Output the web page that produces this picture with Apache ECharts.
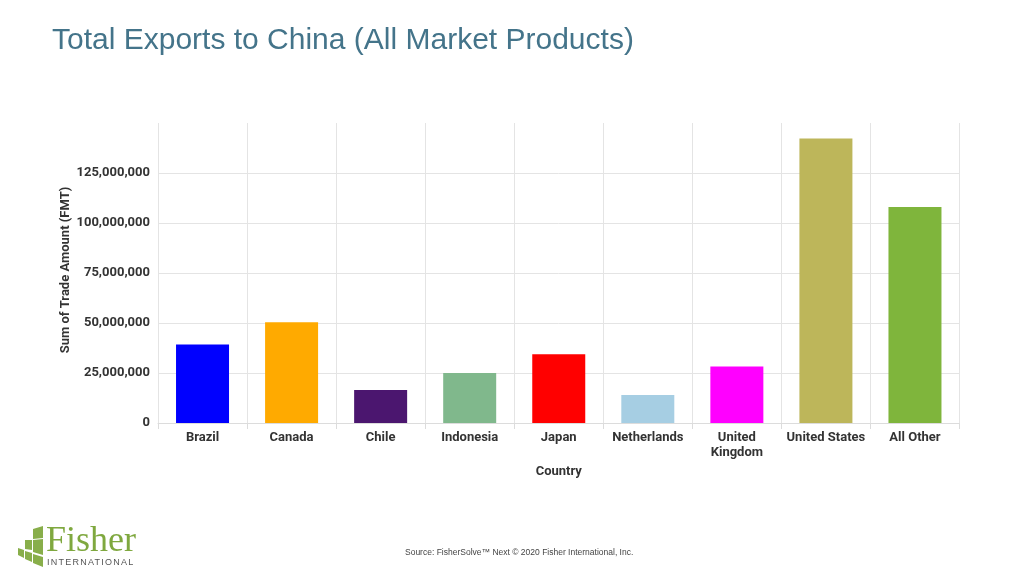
<!DOCTYPE html>
<html>
<head>
<meta charset="utf-8">
<style>
  html, body { margin: 0; padding: 0; background: #fff; }
  #chart { width: 1024px; height: 576px; }
  #logoSub { position: absolute; left: 47px; top: 557px; font: 9px/10px "Liberation Sans"; letter-spacing: 1.25px; color: #555; }
</style>
<script src="https://cdn.jsdelivr.net/npm/echarts@6/dist/echarts.min.js"></script>
</head>
<body>
<div id="chart"></div>
<div id="logoSub">INTERNATIONAL</div>
<script>
const countries = ['Brazil', 'Canada', 'Chile', 'Indonesia', 'Japan', 'Netherlands', 'United\nKingdom', 'United States', 'All Other'];
const tradeAmounts = [39200000, 50400000, 16500000, 25000000, 34400000, 14000000, 28200000, 142300000, 108000000];
const barColors = ['#0000ff', '#ffaa00', '#4b166f', '#80b88c', '#ff0000', '#a6cee3', '#ff00ff', '#bdb65a', '#7fb53c'];

// logo bricks
const logoBricks = [
    [[18, 548], [24, 550], [24, 558], [18, 555]],
    [[25, 540], [32, 540], [32, 550], [25, 549]],
    [[25, 551], [32, 553], [32, 562], [25, 559]],
    [[33, 529], [43, 526], [43, 538], [33, 539]],
    [[33, 540], [43, 539], [43, 555], [33, 552]],
    [[33, 554], [43, 557], [43, 567], [33, 563]]
];

const chart = echarts.init(document.getElementById('chart'));
chart.setOption({
    backgroundColor: '#fff',
    animation: false,
    title: {
        text: 'Total Exports to China (All Market Products)',
        left: 47,
        top: 21,
        textStyle: { fontFamily: 'Liberation Sans', fontSize: 30, fontWeight: 'normal', color: '#44748a' }
    },
    grid: { left: 158, right: 64.5, top: 123, bottom: 153 },
    xAxis: {
        type: 'category',
        data: countries,
        name: 'Country',
        nameLocation: 'middle',
        nameGap: 41,
        nameTextStyle: { fontFamily: 'Roboto', fontSize: 13, fontWeight: 'bold', color: '#333' },
        axisLine: { lineStyle: { color: '#dcdcdc' } },
        axisTick: { show: true, length: 6, lineStyle: { color: '#dcdcdc' } },
        axisLabel: { interval: 0, margin: 7, lineHeight: 15, fontFamily: 'Roboto', fontSize: 13, fontWeight: 'bold', color: '#333' },
        splitLine: { show: true, interval: 0, lineStyle: { color: '#e4e4e4' } }
    },
    yAxis: {
        type: 'value',
        min: 0,
        max: 150000000,
        interval: 25000000,
        name: 'Sum of Trade Amount (FMT)',
        nameLocation: 'middle',
        nameGap: 86,
        nameMoveOverlap: false,
        nameTextStyle: { fontFamily: 'Roboto', fontSize: 13, fontWeight: 'bold', color: '#333', padding: [0, 0, 0, 6] },
        axisLine: { show: false },
        axisTick: { show: false },
        axisLabel: {
            margin: 8,
            showMaxLabel: false,
            fontFamily: 'Roboto',
            fontSize: 13,
            fontWeight: 'bold',
            color: '#333',
            formatter: v => v.toLocaleString('en-US')
        },
        splitLine: { showMaxLine: false, lineStyle: { color: '#e4e4e4' } }
    },
    series: [
        {
            name: 'Sum of Trade Amount (FMT)',
            type: 'bar',
            barWidth: 53,
            data: tradeAmounts.map((v, i) => ({ value: v, itemStyle: { color: barColors[i] } }))
        }
    ],
    graphic: [
        ...logoBricks.map(pts => ({
            type: 'polygon',
            shape: { points: pts },
            style: { fill: '#88ae4a' }
        })),
        {
            type: 'text',
            left: 46,
            top: 524,
            style: { text: 'Fisher', font: '36px "Liberation Serif"', fill: '#7fa83f' }
        },
        {
            type: 'text',
            left: 405,
            top: 548,
            style: { text: 'Source: FisherSolve™ Next © 2020 Fisher International, Inc.', font: '8.5px "Liberation Sans"', fill: '#444' }
        }
    ]
});
</script>
</body>
</html>
